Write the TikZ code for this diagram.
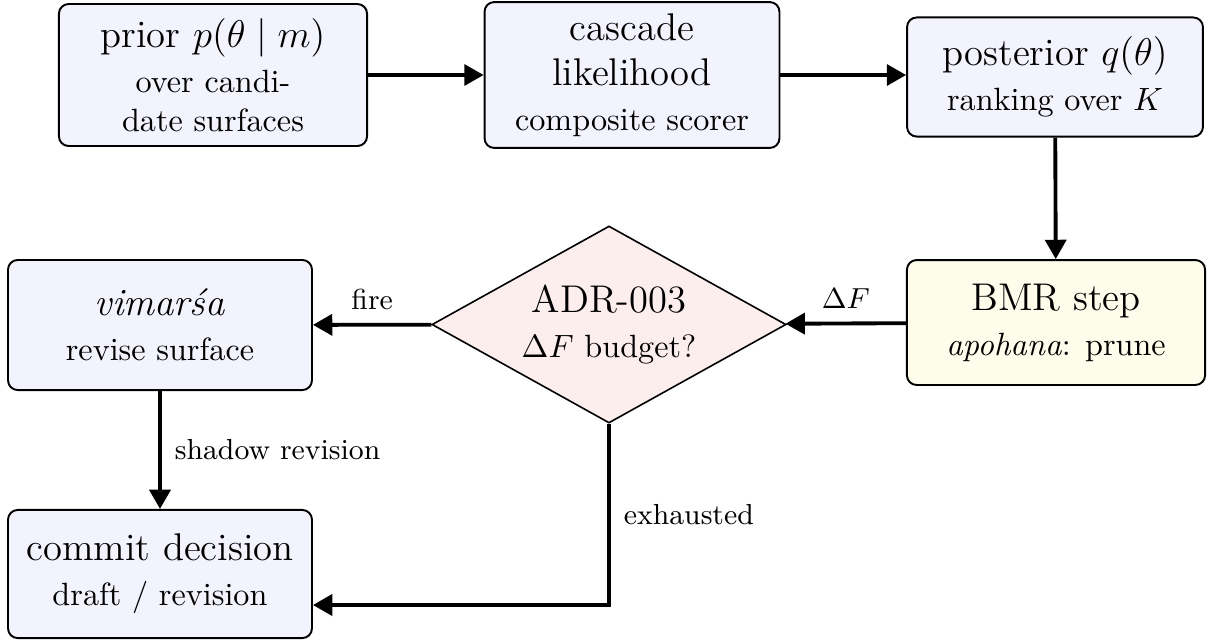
\documentclass[tikz,border=0pt]{standalone}
\usepackage{fontspec}
\usetikzlibrary{shapes.geometric,arrows.meta,calc}
\definecolor{boxfill}{HTML}{F3F3FE}
\definecolor{bmrfill}{HTML}{FEFCEA}
\definecolor{decfill}{HTML}{FDEEEE}
\newcommand{\sub}[1]{{\normalsize #1}}
\begin{document}
\begin{tikzpicture}[x=0.3106pt,y=-0.3106pt,
  box/.style={draw, rounded corners=3pt, fill=boxfill, align=center, line width=0.6pt, inner sep=2pt, font=\large},
  arr/.style={line width=1.2pt, -{Triangle[length=6pt,width=6.5pt]}},
  lbl/.style={font=\small, inner sep=4pt}]
\useasboundingbox (0,0) rectangle (1214,639);
\node[box, minimum width=95.7pt, minimum height=44.1pt] (prior) at (213,75)
  {prior $p(\theta\mid m)$\\\sub{over candi-}\\[-2pt]\sub{date surfaces}};
\node[box, minimum width=91.6pt, minimum height=45.3pt] (cascade) at (632,75)
  {cascade\\likelihood\\\sub{composite scorer}};
\node[box, minimum width=91.9pt, minimum height=37pt] (post) at (1055,77)
  {posterior $q(\theta)$\\\sub{ranking over $K$}};
\node[box, fill=bmrfill, minimum width=92.6pt, minimum height=38.8pt] (bmr) at (1056,322.5)
  {BMR step\\\sub{\textit{apohana}: prune}};
\node[draw, diamond, fill=decfill, line width=0.5pt, align=center, inner sep=0pt, aspect=1.8,
  minimum width=110pt, minimum height=61.2pt, font=\large] (adr) at (609,324.5)
  {ADR-003\\\sub{$\Delta F$ budget?}};
\node[box, minimum width=94.4pt, minimum height=40.4pt] (vim) at (160,325)
  {\textit{vimarśa}\\\sub{revise surface}};
\node[box, minimum width=94.4pt, minimum height=39.8pt] (commit) at (160,574)
  {commit decision\\\sub{draft / revision}};
\draw[arr] (prior) -- (cascade);
\draw[arr] (cascade) -- (cascade -| post.west);
\draw[arr] (post) -- (bmr);
\draw[arr] (bmr) -- node[lbl, above] {$\Delta F$} (adr);
\draw[arr] (adr) -- node[lbl, above] {fire} (vim);
\draw[arr] (vim) -- node[lbl, right] {shadow revision} (commit);
\coordinate (exend) at ($(commit.east)+(0,31)$);
\draw[arr] (adr.south) |- node[lbl, right, pos=0.25] {exhausted} (exend);
\end{tikzpicture}
\end{document}
